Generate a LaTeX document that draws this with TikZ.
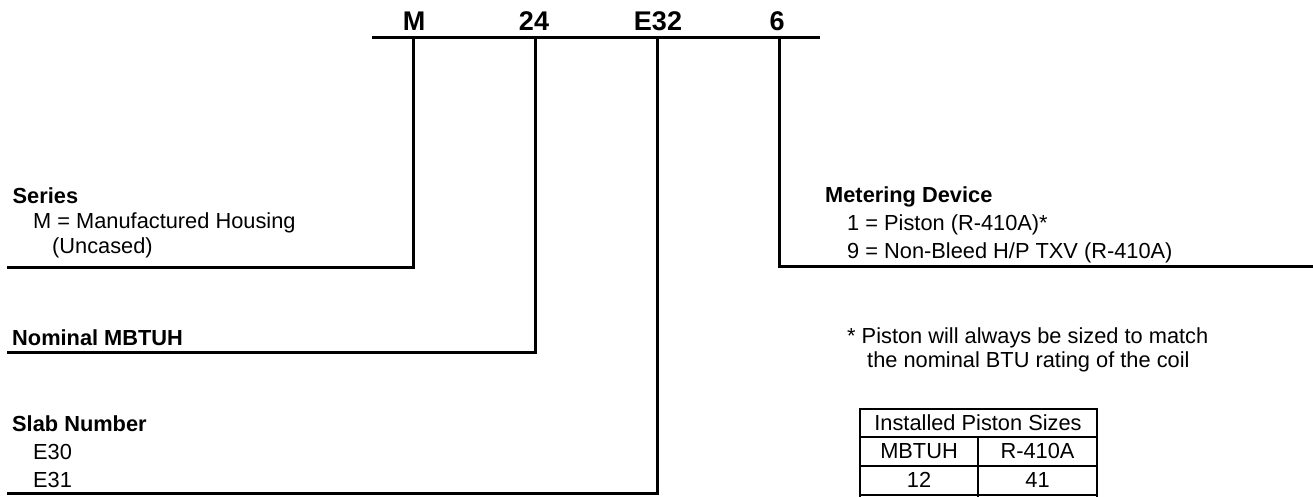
\documentclass[tikz,border=0pt]{standalone}
\usepackage{fontspec}
\setmainfont{Liberation Sans}
\usepackage{tikz}

\tikzset{
	lead/.style={line width=3pt},
	codelbl/.style={anchor=base, inner sep=0pt, font=\fontsize{27}{31}\selectfont\bfseries},
	head/.style={anchor=base west, inner sep=0pt, font=\fontsize{21.8}{26}\selectfont\bfseries},
	item/.style={anchor=base west, inner sep=0pt, font=\fontsize{21.8}{26}\selectfont},
	cell/.style={anchor=base, inner sep=0pt, font=\fontsize{21.8}{26}\selectfont},
}

\begin{document}
\begin{tikzpicture}[x=1pt, y=-1pt]
	
		\useasboundingbox (0,0) rectangle (1313,496);
		
		\node[codelbl] (cM) at (414,30) {M};
		\node[codelbl] (c24) at (534,30) {24};
		\node[codelbl] (cE) at (658,30) {E32};
		\node[codelbl] (c6) at (777,30) {6};
		
		\coordinate (barL) at (372,37.5);
		\coordinate (barR) at (820,37.5);
		\coordinate (tM) at (413,37.5);
		\coordinate (t24) at (535,37.5);
		\coordinate (tE) at (657,37.5);
		\coordinate (t6) at (779,37.5);
		\coordinate (eM) at (413,267);
		\coordinate (e24) at (535,352);
		\coordinate (eE) at (657,493);
		\coordinate (e6) at (779,266);
		\coordinate (serEnd) at (7,267);
		\coordinate (nomEnd) at (7,352);
		\coordinate (slabEnd) at (7,493);
		\coordinate (metEnd) at (1313,266);
		
		\draw[lead] (barL) -- (barR);
		\draw[lead] (tM) -- (eM) -- (serEnd);
		\draw[lead] (t24) -- (e24) -- (nomEnd);
		\draw[lead] (tE) -- (eE) -- (slabEnd);
		\draw[lead] (t6) -- (e6) -- (metEnd);
		
		\node[head] (ser) at (12.5,203) {Series};
		\node[item] (serM) at (33,228) {M = Manufactured Housing};
		\node[item] (serU) at (52,253) {(Uncased)};
		
		\node[head] (nom) at (12,345) {Nominal MBTUH};
		
		\node[head] (slab) at (12,431) {Slab Number};
		\node[item] (e30) at (33,459) {E30};
		\node[item] (e31) at (33,487) {E31};
		
		\node[head] (met) at (825,202) {Metering Device};
		\node[item] (met1) at (847,230) {1 = Piston (R-410A)*};
		\node[item] (met9) at (847,258) {9 = Non-Bleed H/P TXV (R-410A)};
		
		\node[item] (note1) at (847,343) {* Piston will always be sized to match};
		\node[item] (note2) at (867,367) {the nominal BTU rating of the coil};
		
		\draw[line width=2.8pt] (860,497) -- (860,409) -- (1097,409) -- (1097,497);
		\draw[line width=2.2pt] (860,437) -- (1097,437);
		\draw[line width=2.8pt] (860,466) -- (1097,466);
		\draw[line width=2.2pt] (860,495) -- (1097,495);
		\draw[line width=1.2pt] (978,437) -- (978,497);
		\node[cell] (tblHead) at (978,430) {Installed Piston Sizes};
		\node[cell] (colA) at (919,458) {MBTUH};
		\node[cell] (colB) at (1037.5,458) {R-410A};
		\node[cell] (a12) at (919,487) {12};
		\node[cell] (b41) at (1037.5,487) {41};
	\end{tikzpicture}
\end{document}
